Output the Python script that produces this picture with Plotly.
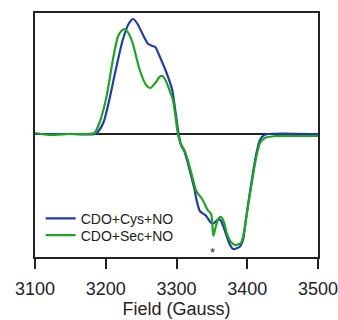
import plotly.graph_objects as go

# Blue: CDO+Cys+NO
cys_field = [3100, 3150, 3185, 3190, 3197, 3205, 3215, 3224, 3233, 3239, 3245, 3252, 3260, 3266,
             3270, 3276, 3286, 3294, 3298, 3303, 3307, 3311, 3316, 3320, 3325, 3329, 3333, 3342,
             3349, 3353, 3358, 3362, 3368, 3375, 3380, 3389, 3394, 3398, 3403, 3408, 3413, 3418,
             3423, 3430, 3450, 3500]
cys_signal = [0, 0, 0, 3, 12, 34, 67, 94, 111, 115, 110, 100, 90, 88,
              87, 78, 61, 44, 25, 0, -12, -17, -29, -40, -54, -68, -77, -82,
              -89, -89, -86, -86, -96, -110, -115, -113, -106, -86, -62, -39, -19, -6,
              -1.5, 0, 0.5, 0]

# Green: CDO+Sec+NO
sec_field = [3100, 3120, 3150, 3175, 3184, 3191, 3201, 3210, 3217, 3222, 3227, 3232, 3238, 3248,
             3257, 3263, 3270, 3276, 3280, 3285, 3290, 3295, 3299, 3302, 3306, 3311, 3316, 3322,
             3328, 3337, 3344, 3349, 3352, 3355, 3359, 3363, 3367, 3371, 3377, 3383, 3391, 3396,
             3401, 3408, 3413, 3418, 3425, 3440, 3470, 3500]
sec_signal = [1, -1, 0, 0, 1, 11, 37, 74, 97, 103, 105, 101, 91, 64,
              49, 46, 51, 57, 58, 53, 44, 34, 15, 0, -10, -16, -26, -42,
              -57, -66, -76, -80, -102, -94, -85, -83, -88, -99, -108, -111, -109, -96,
              -72, -42, -22, -9, -4, -2, -2, -2]

x_ticks = [3100, 3200, 3300, 3400, 3500]
star_field, star_signal = 3351, -109

FONT = "Arial, Liberation Sans, sans-serif"

fig = go.Figure()
fig.add_trace(go.Scatter(x=cys_field, y=cys_signal, mode="lines", name="CDO+Cys+NO",
                         legend="legend",
                         line=dict(color="#1f3db0", width=2.2, shape="spline", smoothing=0.6)))
fig.add_trace(go.Scatter(x=sec_field, y=sec_signal, mode="lines", name="CDO+Sec+NO",
                         legend="legend2",
                         line=dict(color="#1ea51e", width=2.2, shape="spline", smoothing=0.6)))

fig.add_annotation(x=star_field, y=star_signal, text="*", showarrow=False,
                   font=dict(family=FONT, size=13, color="#222"), yanchor="top")

leg_common = dict(xanchor="left", yanchor="middle", bgcolor="rgba(0,0,0,0)",
                  font=dict(size=14, color="#222", family=FONT), itemwidth=30)

fig.update_layout(
    width=338, height=320,
    margin=dict(l=35, r=20, t=13, b=63, autoexpand=False),
    paper_bgcolor="white", plot_bgcolor="white",
    font=dict(family=FONT, color="#222"),
    showlegend=True,
    legend=dict(x=0.02, y=0.157, **leg_common),
    legend2=dict(x=0.02, y=0.088, **leg_common),
    xaxis=dict(range=[3100, 3500], tickvals=x_ticks, ticks="outside", ticklen=10,
               tickwidth=1.5, tickcolor="#222", showline=True, linecolor="#222", linewidth=1.5,
               mirror=True, showgrid=False, zeroline=False, ticklabeloverflow="allow",
               ticklabelstandoff=5, automargin=False,
               tickfont=dict(size=18, family=FONT, color="#222"),
               title=dict(text="Field (Gauss)", font=dict(size=18, family=FONT, color="#222"),
                          standoff=4)),
    yaxis=dict(range=[-123, 121], showticklabels=False, ticks="", showline=True,
               linecolor="#222", linewidth=1.5, mirror=True, showgrid=False, automargin=False,
               zeroline=True, zerolinecolor="#222", zerolinewidth=1.5),
)

fig.write_html("out.html", config={"displayModeBar": False},
               post_script="document.body.style.margin='0';document.body.style.padding='0';")
